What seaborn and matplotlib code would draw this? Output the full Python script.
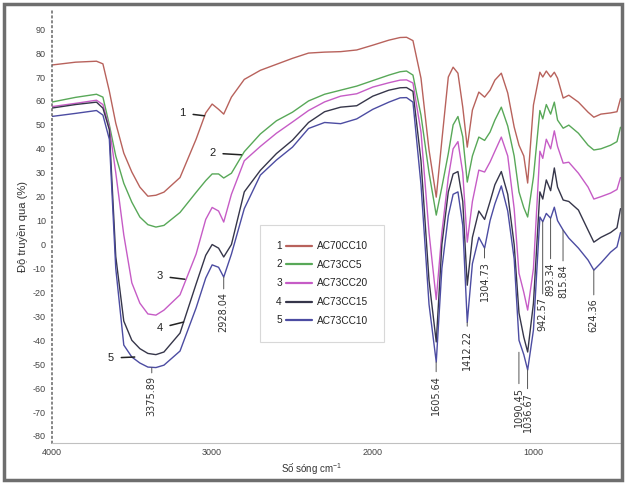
import numpy as np
import pandas as pd
import matplotlib
matplotlib.use("Agg")
import matplotlib.pyplot as plt
import seaborn as sns
from matplotlib.lines import Line2D
from matplotlib.text import Text
from matplotlib.legend_handler import HandlerLine2D
from matplotlib.patches import Rectangle
from matplotlib.ticker import MultipleLocator

# ---------------- data ----------------
wavenumber = [4000, 3850, 3720, 3680, 3640, 3600, 3550, 3500, 3450, 3400,
              3350, 3300, 3200, 3100, 3040, 3000, 2960, 2928, 2880, 2800,
              2700, 2600, 2500, 2400, 2300, 2200, 2100, 2000, 1900, 1830,
              1790, 1750, 1700, 1650, 1605, 1570, 1530, 1500, 1470, 1440,
              1412, 1380, 1340, 1304, 1270, 1240, 1200, 1160, 1120, 1090,
              1060, 1036, 1000, 960, 942, 920, 893, 870, 850, 815,
              780, 720, 660, 624, 580, 520, 480, 458]

t_AC70CC10 = [75.0, 76.2, 76.6, 75.5, 64.1, 50.7, 38.2, 30.3, 24.0, 20.2,
              20.6, 21.9, 28.0, 44.0, 55.0, 58.7, 56.5, 54.5, 61.6, 69.0,
              72.8, 75.3, 77.8, 80.0, 80.4, 80.6, 81.3, 83.3, 85.4, 86.5,
              86.6, 85.2, 69.5, 39.5, 19.8, 43.6, 70.0, 74.1, 71.6, 57.4,
              40.7, 56.2, 63.7, 61.6, 64.5, 68.7, 71.6, 63.3, 49.1, 41.5,
              37.0, 25.7, 58.3, 72.0, 70.0, 72.5, 70.0, 72.0, 69.5, 61.2,
              62.4, 59.5, 55.3, 53.2, 54.5, 55.0, 55.5, 61.0]

t_AC73CC5 = [59.5, 61.5, 62.8, 61.6, 50.0, 37.0, 25.6, 17.7, 11.5, 8.3,
             7.3, 8.0, 13.4, 21.8, 26.7, 29.5, 29.5, 27.8, 29.8, 38.8,
             46.2, 51.7, 55.3, 60.0, 62.8, 64.5, 66.2, 68.5, 70.8, 72.2,
             72.5, 70.8, 54.0, 30.0, 12.3, 24.0, 38.0, 50.0, 53.5, 45.0,
             26.1, 37.0, 44.9, 43.5, 47.0, 52.0, 57.4, 49.5, 37.0, 22.0,
             15.4, 11.5, 28.2, 56.0, 52.5, 58.5, 54.5, 59.5, 52.0, 48.6,
             49.9, 46.5, 41.5, 39.5, 40.0, 41.5, 43.0, 49.0]

t_AC73CC20 = [57.6, 59.0, 60.3, 58.5, 49.0, 30.0, 4.0, -16.0, -24.5, -29.0,
              -29.5, -27.4, -21.0, -4.0, 10.5, 15.5, 14.0, 9.4, 21.0, 35.0,
              41.0, 46.5, 51.2, 56.0, 59.6, 62.0, 63.0, 65.8, 67.6, 68.7,
              68.8, 67.5, 47.0, 5.0, -23.0, 5.0, 28.0, 40.0, 43.0, 30.0,
              1.0, 18.0, 31.1, 30.3, 34.5, 39.0, 44.9, 37.0, 15.0, -12.0,
              -20.0, -27.4, -10.0, 39.0, 36.0, 44.0, 40.0, 47.5, 41.0, 34.0,
              34.4, 29.8, 24.0, 19.0, 20.0, 21.5, 23.0, 28.0]

t_AC73CC15 = [57.0, 58.5, 59.5, 57.0, 48.0, -5.0, -32.0, -40.0, -43.5, -45.5,
              -46.0, -44.9, -37.0, -16.5, -4.5, 0.0, -1.5, -5.2, 0.0, 22.0,
              31.0, 38.0, 43.6, 51.0, 55.5, 57.4, 58.0, 62.0, 64.5, 65.5,
              65.6, 64.0, 35.0, -15.0, -40.7, 0.0, 22.0, 29.5, 30.5, 18.0,
              -17.0, 3.0, 14.0, 10.5, 18.0, 25.0, 30.5, 21.0, 0.0, -28.6,
              -38.7, -44.9, -24.5, 22.0, 19.0, 27.0, 22.5, 32.0, 24.0, 18.6,
              18.0, 14.4, 6.0, 1.0, 3.0, 5.0, 7.0, 15.0]

t_AC73CC10 = [53.5, 54.8, 56.0, 54.1, 44.0, -10.0, -42.0, -47.0, -49.5, -51.2,
              -51.4, -50.4, -44.5, -26.5, -14.0, -8.5, -9.5, -13.6, -4.0, 15.0,
              29.0, 35.3, 40.7, 48.5, 51.0, 50.5, 52.5, 56.5, 59.5, 61.3,
              61.4, 59.5, 25.0, -25.0, -49.1, -10.0, 12.0, 21.0, 22.0, 8.0,
              -32.5, -8.0, 3.0, -1.5, 10.0, 17.0, 24.5, 14.0, -6.0, -40.0,
              -46.0, -52.4, -35.7, 11.5, 9.5, 13.0, 11.0, 15.6, 10.0, 6.0,
              2.7, -1.5, -6.5, -10.7, -7.7, -3.2, -1.0, 5.0]

samples = ["AC70CC10", "AC73CC5", "AC73CC20", "AC73CC15", "AC73CC10"]
sample_numbers = ["1", "2", "3", "4", "5"]
series = [t_AC70CC10, t_AC73CC5, t_AC73CC20, t_AC73CC15, t_AC73CC10]
colors = ["#b8625c", "#58a858", "#c65cc6", "#36364a", "#4c4ca2"]

# peak labels: wavenumber, curve value where the leader starts, text top
peak_labels = ["3375.89", "2928.04", "1605.64", "1412.22", "1304.73",
               "1090,45", "1036.67", "942.57", "893.34", "815.84", "624.36"]
peak_pos = [3375.89, 2928.04, 1605.64, 1412.22, 1304.73,
            1090.45, 1036.67, 942.57, 893.34, 815.84, 624.36]
peak_curve = [-51.5, -13.6, -49.1, -32.5, -1.5, -45.0, -52.4, 9.5, 11.0, 6.0, -10.7]
peak_text = [-55.0, -19.9, -54.5, -35.5, -7.0, -59.5, -61.6, -22.0, -7.3, -8.2, -22.4]

# curve number tags: text position and point on curve
tag_text_w = [3184, 2998, 3327, 3327, 3631]
tag_text_t = [54.9, 38.2, -13.2, -34.9, -47.4]
tag_pt_w = [3048, 2818, 3170, 3178, 3482]
tag_pt_t = [53.8, 37.5, -14.5, -32.4, -47.0]

# ---------------- figure ----------------
sns.set_theme(style="white")
plt.rcParams["font.family"] = ["Liberation Sans", "DejaVu Sans"]
plt.rcParams["axes.unicode_minus"] = False

fig = plt.figure(figsize=(6.25, 4.83), dpi=100)
ax = fig.add_axes([51.5 / 625, 1 - 442.7 / 483, (621 - 51.5) / 625, (442.7 - 10) / 483])

df = pd.concat([pd.DataFrame({"w": wavenumber, "t": s, "sample": n})
                for s, n in zip(series, samples)], ignore_index=True)
sns.lineplot(data=df, x="w", y="t", hue="sample", hue_order=samples,
             palette=dict(zip(samples, colors)), estimator=None, sort=False,
             lw=1.0, legend=False, ax=ax)

ax.set_xlim(4000, 455)
ax.set_ylim(-82.8, 98)
ax.set_xticks([4000, 3000, 2000, 1000])
ax.xaxis.set_minor_locator(MultipleLocator(250))
ax.set_yticks(np.arange(-80, 91, 10))

for s in ["top", "right"]:
    ax.spines[s].set_visible(False)
ax.spines["left"].set_linestyle((0, (1, 2.2)))
ax.spines["left"].set_color("#666666")
ax.spines["left"].set_linewidth(1.1)
ax.spines["bottom"].set_color("#c0c0c0")
ax.spines["bottom"].set_linewidth(0.8)

ax.tick_params(axis="y", which="major", direction="out", length=3, width=0.9,
               color="#777777", labelsize=6.5, labelcolor="#444444", pad=1)
ax.tick_params(axis="x", which="both", direction="inout", length=3, width=0.8,
               color="#888888", labelsize=6.5, labelcolor="#444444", pad=2)
ax.tick_params(axis="x", which="minor", length=2.5)
ax.grid(False)

ax.set_xlabel("Số sóng cm$^{\\mathregular{-1}}$", fontsize=7, color="#333333")
ax.xaxis.set_label_coords((312 - 51.5) / 569.5, -(461 - 442.7) / 432.7)
ax.set_ylabel("Độ truyền qua (%)", fontsize=8, color="#333333")
ax.yaxis.set_label_coords(-(51.5 - 28) / 569.5, 0.5)

# peak annotations
for lab, w, yc, yt in zip(peak_labels, peak_pos, peak_curve, peak_text):
    ax.annotate(lab, xy=(w, yc), xytext=(w, yt), rotation=90, ha="center", va="top",
                fontsize=7, color="#333333", family="DejaVu Sans",
                arrowprops=dict(arrowstyle="-", color="#555555", lw=0.7,
                                shrinkA=0, shrinkB=0))

# curve number tags
for num, xw, yt, pw, pt in zip(sample_numbers, tag_text_w, tag_text_t, tag_pt_w, tag_pt_t):
    ax.annotate(num, xy=(pw, pt), xytext=(xw, yt), ha="center", va="center",
                fontsize=8, color="#222222",
                arrowprops=dict(arrowstyle="-", color="#222222", lw=1.1,
                                shrinkA=3, shrinkB=0))

# legend with numbered handles
class NumberedHandler(HandlerLine2D):
    def __init__(self, num):
        super().__init__()
        self.num = num

    def create_artists(self, legend, orig_handle, xdescent, ydescent,
                       width, height, fontsize, trans):
        x0 = -xdescent
        y = height / 2 - ydescent
        t = Text(x0, y, self.num, fontsize=fontsize, va="center", ha="left",
                 color="#222222", transform=trans)
        ln = Line2D([x0 + 0.28 * width, x0 + width], [y, y],
                    color=orig_handle.get_color(), lw=1.6, transform=trans)
        return [t, ln]

handles = [Line2D([], [], color=c) for c in colors]
leg = ax.legend(handles, samples,
                handler_map={h: NumberedHandler(n) for h, n in zip(handles, sample_numbers)},
                loc="upper left", bbox_to_anchor=((260 - 51.5) / 569.5, 1 - (225 - 10) / 432.7),
                borderaxespad=0, frameon=True, fancybox=False, fontsize=7.3,
                handlelength=3.5, handletextpad=0.5, labelspacing=0.85,
                borderpad=1.6)
leg.get_frame().set_edgecolor("#cfcfcf")
leg.get_frame().set_linewidth(0.8)
for t in leg.get_texts():
    t.set_color("#222222")

# outer frame
fig.patches.append(Rectangle((4 / 625, 3 / 483), 618 / 625, 476 / 483,
                             transform=fig.transFigure, fill=False,
                             edgecolor="#6e6e6e", lw=2.5))

fig.savefig("out.png", dpi=100)
